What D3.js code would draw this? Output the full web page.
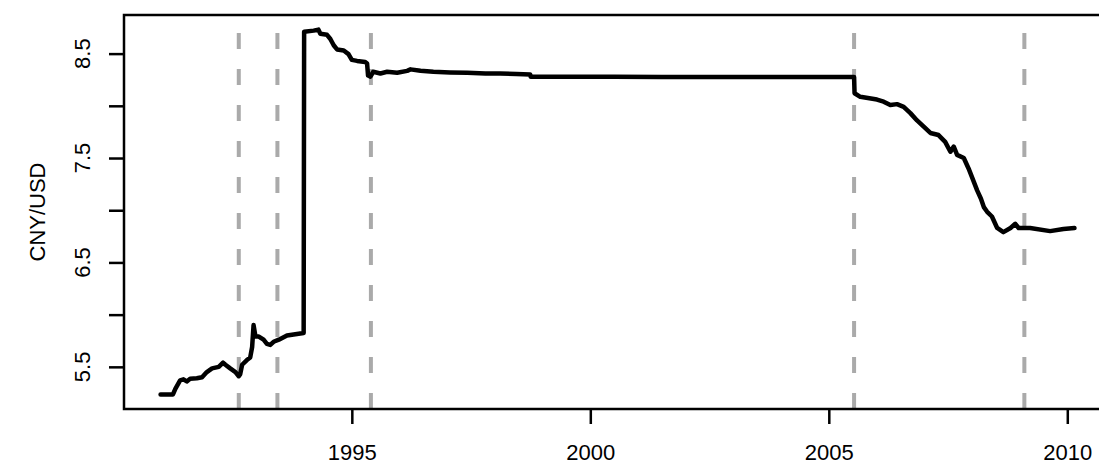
<!DOCTYPE html>
<html>
<head>
<meta charset="utf-8">
<script src="https://cdn.jsdelivr.net/npm/d3@7"></script>
<style>
  body { margin: 0; background: #fff; }
  text { font-family: "Liberation Sans", Arial, Helvetica, sans-serif; }
</style>
</head>
<body>
<div id="chart"></div>
<script>
// CNY per USD
var years = [1990.99, 1991.25, 1991.30, 1991.40, 1991.47, 1991.54, 1991.61, 1991.75, 1991.86, 1991.96,
  1992.07, 1992.21, 1992.30, 1992.35, 1992.45, 1992.56, 1992.63, 1992.66, 1992.70, 1992.80,
  1992.87, 1992.91, 1992.94, 1992.98, 1993.05, 1993.15, 1993.22, 1993.29, 1993.36, 1993.47,
  1993.64, 1993.78, 1993.92, 1993.99, 1994.00, 1994.20, 1994.30, 1994.34, 1994.48, 1994.55,
  1994.62, 1994.69, 1994.83, 1994.93, 1995.00, 1995.11, 1995.28, 1995.32, 1995.34, 1995.39,
  1995.45, 1995.60, 1995.74, 1995.95, 1996.16, 1996.23, 1996.44, 1996.71, 1997.06, 1997.42,
  1997.80, 1998.11, 1998.45, 1998.74, 1998.75, 1999.50, 2000.50, 2001.50, 2002.50, 2003.50,
  2004.50, 2005.53, 2005.54, 2005.66, 2006.01, 2006.15, 2006.29, 2006.43, 2006.57, 2006.71,
  2006.85, 2006.99, 2007.13, 2007.30, 2007.44, 2007.55, 2007.62, 2007.69, 2007.83, 2007.93,
  2008.00, 2008.11, 2008.19, 2008.25, 2008.32, 2008.42, 2008.53, 2008.66, 2008.81, 2008.91,
  2008.98, 2009.22, 2009.64, 2009.92, 2010.15];
var rates = [5.236, 5.236, 5.29, 5.37, 5.38, 5.36, 5.385, 5.39, 5.40, 5.45,
  5.485, 5.50, 5.54, 5.52, 5.485, 5.45, 5.41, 5.43, 5.52, 5.565,
  5.59, 5.69, 5.90, 5.79, 5.79, 5.76, 5.72, 5.71, 5.74, 5.76,
  5.80, 5.81, 5.82, 5.825, 8.709, 8.72, 8.73, 8.69, 8.68, 8.64,
  8.58, 8.54, 8.53, 8.495, 8.44, 8.43, 8.42, 8.405, 8.29, 8.28,
  8.326, 8.31, 8.326, 8.316, 8.335, 8.349, 8.335, 8.326, 8.32, 8.316,
  8.31, 8.31, 8.305, 8.30, 8.279, 8.279, 8.278, 8.277, 8.277, 8.277,
  8.276, 8.276, 8.12, 8.086, 8.06, 8.04, 8.007, 8.016, 7.99, 7.93,
  7.86, 7.80, 7.74, 7.72, 7.655, 7.56, 7.61, 7.53, 7.50, 7.40,
  7.32, 7.19, 7.11, 7.03, 6.985, 6.94, 6.83, 6.79, 6.83, 6.87,
  6.83, 6.83, 6.80, 6.82, 6.83];
var breaks = [1992.63, 1993.44, 1995.40, 2005.53, 2009.10];
var xTicks = [1995, 2000, 2005, 2010];
var yTicks = [5.5, 6, 6.5, 7, 7.5, 8, 8.5];
var yLabels = [5.5, 6.5, 7.5, 8.5];

(function() {
var W = 1099, H = 466;
var mLeft = 124, mTop = 15, mBottom = 409, mRight = 1111;

var svg = d3.select("#chart").append("svg")
  .attr("width", W).attr("height", H);

// R style 4% padding on both axes
var xe = d3.extent(years), ye = d3.extent(rates);
var xp = (xe[1] - xe[0]) * 0.04, yp = (ye[1] - ye[0]) * 0.04;
var x = d3.scaleLinear().domain([xe[0] - xp, xe[1] + xp]).range([mLeft, mRight]);
var y = d3.scaleLinear().domain([ye[0] - yp, ye[1] + yp]).range([mBottom, mTop]);

// dashed event lines
svg.selectAll(".brk").data(breaks).enter().append("line")
  .attr("x1", function(d) { return x(d); }).attr("x2", function(d) { return x(d); })
  .attr("y1", mBottom).attr("y2", mTop)
  .attr("stroke", "#aaaaaa").attr("stroke-width", 4)
  .attr("stroke-dasharray", "16,20");

// the series
var pts = years.map(function(d, i) { return [d, rates[i]]; });
svg.append("path")
  .datum(pts)
  .attr("fill", "none")
  .attr("stroke", "#000")
  .attr("stroke-width", 4.5)
  .attr("stroke-linejoin", "round")
  .attr("stroke-linecap", "round")
  .attr("d", d3.line().x(function(d) { return x(d[0]); }).y(function(d) { return y(d[1]); }));

// box
svg.append("rect")
  .attr("x", mLeft).attr("y", mTop)
  .attr("width", mRight - mLeft).attr("height", mBottom - mTop)
  .attr("fill", "none").attr("stroke", "#000").attr("stroke-width", 2.5);

// x axis
var xa = svg.append("g").attr("transform", "translate(0," + mBottom + ")")
  .call(d3.axisBottom(x).tickValues(xTicks).tickFormat(d3.format("d")).tickSize(15).tickPadding(20));
xa.select(".domain").remove();
xa.selectAll("line").attr("stroke-width", 2.5);
xa.selectAll("text").attr("font-size", 22).attr("fill", "#000")
  .attr("font-family", "'Liberation Sans', Arial, sans-serif");

// y axis
var ya = svg.append("g").attr("transform", "translate(" + mLeft + ",0)")
  .call(d3.axisLeft(y).tickValues(yTicks).tickSize(15).tickFormat(""));
ya.select(".domain").remove();
ya.selectAll("line").attr("stroke-width", 2.5);

svg.selectAll(".ylab").data(yLabels).enter().append("text")
  .attr("transform", function(d) { return "translate(90," + y(d) + ") rotate(-90)"; })
  .attr("text-anchor", "middle")
  .attr("font-size", 22)
  .text(function(d) { return d.toFixed(1); });

svg.append("text")
  .attr("transform", "translate(45," + ((mTop + mBottom) / 2) + ") rotate(-90)")
  .attr("text-anchor", "middle")
  .attr("font-size", 22)
  .text("CNY/USD");
})();
</script>
</body>
</html>
